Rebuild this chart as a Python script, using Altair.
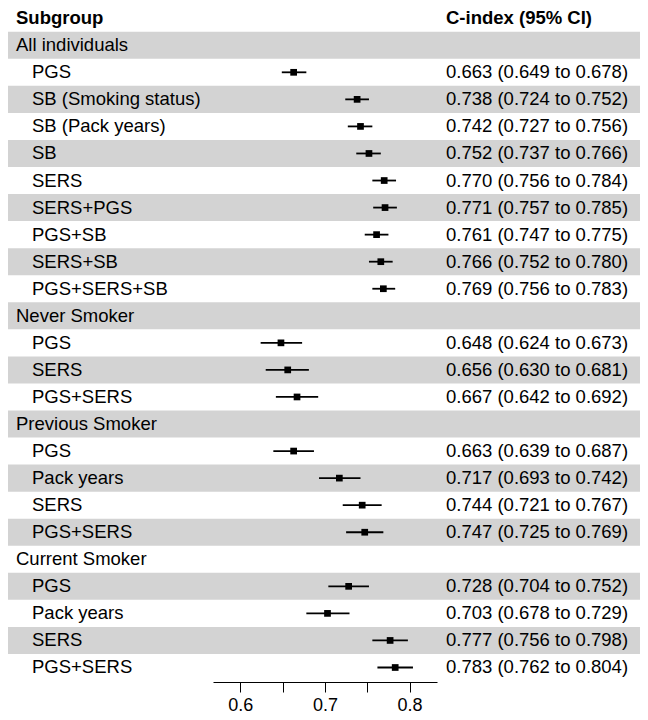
import altair as alt
import pandas as pd

# ---- data ----
labels = ["All individuals", "PGS", "SB (Smoking status)", "SB (Pack years)", "SB",
          "SERS", "SERS+PGS", "PGS+SB", "SERS+SB", "PGS+SERS+SB",
          "Never Smoker", "PGS", "SERS", "PGS+SERS",
          "Previous Smoker", "PGS", "Pack years", "SERS", "PGS+SERS",
          "Current Smoker", "PGS", "Pack years", "SERS", "PGS+SERS"]
is_group = [True, False, False, False, False, False, False, False, False, False,
            True, False, False, False,
            True, False, False, False, False,
            True, False, False, False, False]
est = [None, 0.663, 0.738, 0.742, 0.752, 0.770, 0.771, 0.761, 0.766, 0.769,
       None, 0.648, 0.656, 0.667,
       None, 0.663, 0.717, 0.744, 0.747,
       None, 0.728, 0.703, 0.777, 0.783]
lower = [None, 0.649, 0.724, 0.727, 0.737, 0.756, 0.757, 0.747, 0.752, 0.756,
         None, 0.624, 0.630, 0.642,
         None, 0.639, 0.693, 0.721, 0.725,
         None, 0.704, 0.678, 0.756, 0.762]
upper = [None, 0.678, 0.752, 0.756, 0.766, 0.784, 0.785, 0.775, 0.780, 0.783,
         None, 0.673, 0.681, 0.692,
         None, 0.687, 0.742, 0.767, 0.769,
         None, 0.752, 0.729, 0.798, 0.804]
header_left = "Subgroup"
header_right = "C-index (95% CI)"
tick_values = [0.6, 0.65, 0.7, 0.75, 0.8]

rows = []
for i, lab in enumerate(labels):
    r = i + 1
    e, lo, up = est[i], lower[i], upper[i]
    txt = "" if e is None else f"{e:.3f} ({lo:.3f} to {up:.3f})"
    rows.append({"row": r, "label": lab, "group": is_group[i], "est": e,
                 "lower": lo, "upper": up, "ci": txt, "shade": r % 2 == 1})
df = pd.DataFrame(rows)
hdr = pd.DataFrame([{"row": 0, "left": header_left, "right": header_right}])

FONT = "Liberation Sans"
FS = 18.5
H = 674
yscale = alt.Scale(domain=[-0.377, 24.536], reverse=True, nice=False, zero=False)
BAND = "#d3d3d3"

base = alt.Chart(df)


def bands():
    return base.transform_filter("datum.shade").transform_calculate(
        y0="datum.row - 0.5", y1="datum.row + 0.5"
    ).mark_rect(color=BAND).encode(
        x=alt.value(0), x2=alt.value("width"),
        y=alt.Y("y0:Q", scale=yscale, axis=None), y2="y1:Q")


# left panel
left = alt.layer(
    bands(),
    base.transform_filter("datum.group").mark_text(
        align="left", baseline="middle", font=FONT, fontSize=FS, color="black"
    ).encode(x=alt.value(8), y=alt.Y("row:Q", scale=yscale, axis=None), text="label:N"),
    base.transform_filter("!datum.group").mark_text(
        align="left", baseline="middle", font=FONT, fontSize=FS, color="black"
    ).encode(x=alt.value(24), y=alt.Y("row:Q", scale=yscale, axis=None), text="label:N"),
    alt.Chart(hdr).mark_text(
        align="left", baseline="middle", font=FONT, fontSize=FS, fontWeight="bold", color="black"
    ).encode(x=alt.value(8), y=alt.Y("row:Q", scale=yscale, axis=None), text="left:N"),
).properties(width=205, height=H)

# middle forest panel
xscale = alt.Scale(domain=[0.5677, 0.8324], nice=False, zero=False)
xaxis = alt.Axis(values=tick_values, title=None, format=".2f",
                 labelExpr="(round(datum.value*100) % 10 == 0) ? format(datum.value, '.1f') : ''",
                 grid=False, domainColor="black", tickColor="black", tickSize=10,
                 labelFont=FONT, labelFontSize=18, labelColor="black", labelPadding=4,
                 domainWidth=1, tickWidth=1)
pts = base.transform_filter("isValid(datum.est)")
middle = alt.layer(
    bands(),
    pts.mark_rule(color="black", strokeWidth=1.8).encode(
        x=alt.X("lower:Q", scale=xscale, axis=xaxis), x2="upper:Q",
        y=alt.Y("row:Q", scale=yscale, axis=None)),
    pts.mark_point(shape="square", filled=True, color="black", size=45, opacity=1).encode(
        x=alt.X("est:Q", scale=xscale, axis=xaxis),
        y=alt.Y("row:Q", scale=yscale, axis=None)),
).properties(width=224, height=H)

# right text panel
right = alt.layer(
    bands(),
    pts.mark_text(align="left", baseline="middle", font=FONT, fontSize=FS, color="black").encode(
        x=alt.value(9), y=alt.Y("row:Q", scale=yscale, axis=None), text="ci:N"),
    alt.Chart(hdr).mark_text(
        align="left", baseline="middle", font=FONT, fontSize=FS, fontWeight="bold", color="black"
    ).encode(x=alt.value(9), y=alt.Y("row:Q", scale=yscale, axis=None), text="right:N"),
).properties(width=203, height=H)

chart = alt.hconcat(left, middle, right, spacing=0).properties(
    padding=0, background="white"
).configure_view(stroke=None).resolve_scale(y="shared")

chart.save("out.html", embed_options={"renderer": "svg", "actions": False})
